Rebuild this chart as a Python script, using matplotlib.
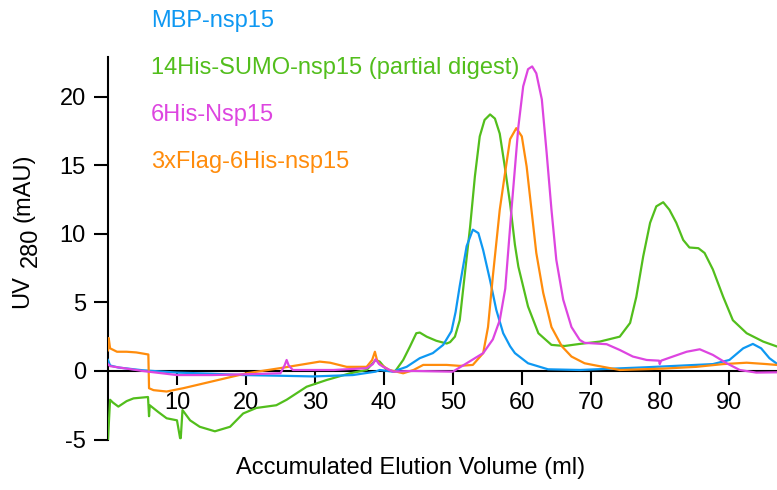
import numpy as np
import matplotlib
matplotlib.use("Agg")
import matplotlib.pyplot as plt

plt.rcParams["font.family"] = ["Liberation Sans", "DejaVu Sans"]
plt.rcParams["axes.unicode_minus"] = False

BLUE, GREEN, MAGENTA, ORANGE = "#0E98F2", "#52BE1C", "#DD45E0", "#FF8C0C"

# elution volume (ml) / UV280 (mAU)
mbp_x = [0.0, 0.3, 1.5, 5, 10, 15, 19.6, 25, 29.8, 35.5, 38.8, 39.4, 41.3, 43.3, 45.2,
         47.1, 48.6, 49.8, 50.4, 51.0, 52.0, 52.9, 53.7, 54.4, 55.4, 56.3, 57.3, 58.3,
         59.0, 60.9, 63.8, 68.4, 78.1, 87.7, 90.1, 92.1, 93.5, 94.7, 95.9, 96.9]
mbp_y = [0.8, 0.4, 0.25, 0.05, -0.12, -0.2, -0.3, -0.35, -0.4, -0.3, -0.05, 0.07, -0.05,
         0.3, 0.93, 1.3, 1.9, 2.9, 4.3, 6.2, 9.1, 10.3, 10.05, 8.8, 6.6, 4.45, 2.75, 1.8,
         1.3, 0.56, 0.12, 0.07, 0.27, 0.5, 0.8, 1.65, 1.97, 1.65, 0.93, 0.56]

sumo_x = [0.0, 0.3, 0.7, 1.5, 2.7, 3.7, 5.8, 5.95, 6.05, 7.3, 8.5, 10.0, 10.45, 10.55,
          10.8, 11.9, 13.3, 15.5, 17.7, 19.6, 21.5, 24.4, 25.9, 28.8, 31.7, 35.1, 37.5,
          38.8, 39.4, 40.4, 41.6, 42.8, 43.8, 44.7, 45.2, 46.2, 47.6, 49.1, 49.6, 50.3,
          51.0, 51.7, 52.5, 53.2, 53.9, 54.6, 55.4, 56.1, 56.8, 57.5, 58.3, 59.0, 59.5,
          60.9, 62.4, 64.3, 66.2, 68.4, 71.3, 74.2, 75.7, 76.6, 77.6, 78.6, 79.5, 80.5,
          81.4, 82.4, 83.4, 84.3, 85.6, 86.5, 87.7, 89.2, 90.6, 92.6, 95.0, 96.9]
sumo_y = [-5.0, -2.1, -2.3, -2.6, -2.2, -2.0, -1.9, -3.3, -2.5, -3.0, -3.45, -3.6, -4.9,
          -4.9, -2.85, -3.6, -4.07, -4.4, -4.07, -3.1, -2.7, -2.5, -2.1, -1.15, -0.66,
          -0.17, 0.07, 0.8, 0.68, 0.07, -0.05, 0.8, 1.8, 2.75, 2.8, 2.5, 2.2, 2.0, 2.1,
          2.5, 3.7, 6.9, 10.5, 14.2, 17.1, 18.3, 18.7, 18.4, 17.3, 15.0, 12.2, 9.2, 7.6,
          4.7, 2.75, 1.9, 1.82, 1.97, 2.14, 2.5, 3.5, 5.4, 8.35, 10.8, 12.0, 12.3, 11.75,
          10.8, 9.55, 9.0, 8.95, 8.6, 7.4, 5.4, 3.7, 2.75, 2.14, 1.8]

his_x = [0.0, 0.3, 5, 10.0, 15, 19.6, 25.0, 25.6, 25.9, 26.2, 26.8, 32.7, 37.5, 38.4, 38.8,
         39.3, 39.9, 41.3, 44.3, 50.0, 52.0, 54.4, 55.8, 56.8, 57.6, 58.5, 59.5, 60.2,
         60.9, 61.5, 62.1, 62.9, 63.6, 64.3, 65.0, 66.0, 67.2, 68.4, 69.1, 72.3, 74.2,
         76.1, 78.1, 79.9, 80.0, 80.2, 81.9, 83.9, 85.8, 87.7, 89.7, 91.6, 94.0, 96.9]
his_y = [0.5, 0.35, 0.0, -0.3, -0.3, -0.25, -0.17, 0.4, 0.8, 0.4, 0.07, 0.07, 0.2, 0.5,
         0.85, 0.5, 0.3, -0.05, 0.0, -0.05, 0.56, 1.3, 2.3, 3.7, 6.0, 11.75, 17.8, 20.75,
         22.0, 22.2, 21.7, 19.8, 15.9, 11.75, 8.1, 5.2, 3.2, 2.26, 2.05, 1.95, 1.53, 1.05,
         0.8, 0.75, 0.5, 0.75, 1.05, 1.4, 1.58, 1.17, 0.56, 0.07, -0.12, -0.1]

flag_x = [0.0, 0.1, 0.3, 1.3, 2.7, 4.1, 5.85, 5.95, 6.6, 8.5, 10.9, 20.1, 24.9, 30.7,
          32.2, 34.6, 37.5, 38.3, 38.7, 39.0, 39.4, 40.8, 42.8, 44.3, 45.7, 49.1, 51.0,
          52.9, 54.4, 55.1, 55.8, 56.8, 57.5, 58.3, 59.2, 60.0, 60.7, 61.4, 62.1, 63.1,
          64.3, 65.8, 67.2, 69.1, 70.3, 74.2, 80.5, 85.3, 89.2, 92.6, 95.5, 96.9]
flag_y = [1.5, 2.4, 1.65, 1.4, 1.4, 1.35, 1.2, -1.26, -1.4, -1.5, -1.26, -0.17, 0.2,
          0.68, 0.6, 0.3, 0.3, 0.8, 1.4, 0.8, 0.5, 0.07, -0.17, 0.07, 0.44, 0.44, 0.37,
          0.44, 1.3, 3.2, 6.9, 11.75, 14.2, 16.9, 17.7, 17.1, 14.9, 11.75, 8.6, 5.7, 3.2,
          1.8, 1.05, 0.56, 0.44, 0.07, 0.17, 0.3, 0.5, 0.6, 0.5, 0.44]

series = [
    ("MBP-nsp15", mbp_x, mbp_y, BLUE),
    ("14His-SUMO-nsp15 (partial digest)", sumo_x, sumo_y, GREEN),
    ("6His-Nsp15", his_x, his_y, MAGENTA),
    ("3xFlag-6His-nsp15", flag_x, flag_y, ORANGE),
]
xticks = [10, 20, 30, 40, 50, 60, 70, 80, 90]
yticks = [-5, 0, 5, 10, 15, 20]

fig = plt.figure(figsize=(7.77, 4.9), dpi=100)
ax = fig.add_axes([0.139, 0.103, 0.861, 0.781])
for order in (1, 0, 3, 2):
    name, xs, ys, c = series[order]
    ax.plot(xs, ys, color=c, lw=1.6, solid_joinstyle="round")

ax.set_xlim(0, 97)
ax.set_ylim(-5, 22.9)
ax.spines["top"].set_visible(False)
ax.spines["right"].set_visible(False)
ax.spines["bottom"].set_position(("data", 0))
for s in ("left", "bottom"):
    ax.spines[s].set_linewidth(1.5)
    ax.spines[s].set_zorder(1)
ax.set_xticks(xticks)
ax.set_yticks(yticks)
ax.tick_params(axis="both", direction="out", length=10, width=1.5, labelsize=17)
ax.tick_params(axis="x", pad=5)
ax.tick_params(axis="y", pad=6)

# x label and the two-part y label
fig.text(411 / 777, 1 - 468 / 490, "Accumulated Elution Volume (ml)", fontsize=17,
         ha="center", va="center")
fig.text(22.5 / 777, 1 - 292 / 490, "UV", fontsize=17, rotation=90, ha="center", va="center")
fig.text(31 / 777, 1 - 247 / 490, "280", fontsize=17, rotation=90, ha="center", va="center")
fig.text(23 / 777, 1 - 188 / 490, "(mAU)", fontsize=17, rotation=90, ha="center", va="center")

# legend as coloured text lines
for i, (name, xs, ys, c) in enumerate(series):
    fig.text(151 / 777, 1 - (26.7 + 47 * i) / 490, name, color=c, fontsize=17,
             ha="left", va="baseline")

fig.savefig("out.png", dpi=100)
